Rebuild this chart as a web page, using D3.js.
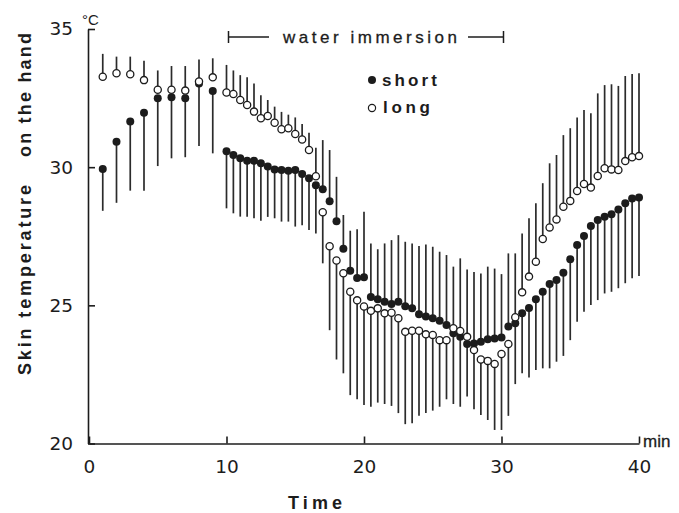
<!DOCTYPE html>
<html lang="en">
  <head>
    <title>Skin temperature on the hand</title>
    <meta charset="utf-8" />
    <script src="https://d3js.org/d3.v7.min.js"></script>
    <style>
      body { margin: 0; background: #fff; }
    </style>
  </head>
  <body>
    <svg id="chart" width="679" height="513" viewBox="0 0 679 513"></svg>
    <script>
      // time points (min): every minute before immersion, every half minute after
      const times = [
        1, 2, 3, 4, 5, 6, 7, 8, 9,
        10, 10.5, 11, 11.5, 12, 12.5, 13, 13.5, 14, 14.5, 15, 15.5, 16, 16.5, 17, 17.5, 18, 18.5, 19, 19.5,
        20, 20.5, 21, 21.5, 22, 22.5, 23, 23.5, 24, 24.5, 25, 25.5, 26, 26.5, 27, 27.5, 28, 28.5, 29, 29.5, 30,
        30.5, 31, 31.5, 32, 32.5, 33, 33.5, 34, 34.5, 35, 35.5, 36, 36.5, 37, 37.5, 38, 38.5, 39, 39.5, 40
      ];

      // "short" group: mean and the end of its SD bar
      const shortMean = [
        29.93, 30.92, 31.65, 31.97, 32.49, 32.53, 32.49, 33.03, 32.76,
        30.58, 30.44, 30.32, 30.23, 30.23, 30.14, 30.02, 29.92, 29.90, 29.87, 29.90, 29.75, 29.60, 29.35, 29.20, 28.77, 28.04, 27.05, 26.25, 25.99,
        26.02, 25.30, 25.22, 25.13, 25.05, 25.13, 24.97, 24.89, 24.68, 24.60, 24.53, 24.44, 24.29, 23.99, 23.86, 23.60, 23.62, 23.68, 23.77, 23.80, 23.84,
        24.23, 24.35, 24.71, 24.90, 25.22, 25.49, 25.77, 25.92, 26.18, 26.67, 27.18, 27.51, 27.87, 28.09, 28.21, 28.30, 28.47, 28.69, 28.87, 28.90
      ];
      const shortEnd = [
        28.42, 28.71, 29.15, 29.15, 30.04, 30.32, 30.36, 30.77, 30.50,
        28.51, 28.33, 28.21, 28.21, 28.15, 28.06, 28.20, 28.15, 28.03, 28.03, 27.85, 27.90, 27.73, 27.60, 30.98, 30.62, 29.65, 28.27, 27.70, 27.75,
        28.39, 27.24, 27.03, 27.24, 27.36, 27.54, 27.30, 27.24, 27.15, 27.20, 27.12, 26.94, 26.82, 26.40, 26.70, 26.30, 26.21, 26.15, 26.40, 26.33, 26.13,
        26.88, 22.15, 22.54, 22.39, 22.66, 22.72, 22.72, 22.96, 23.17, 23.74, 24.41, 24.77, 25.01, 25.19, 25.43, 25.49, 25.62, 25.80, 25.98, 26.06
      ];

      // "long" group
      const longMean = [
        33.27, 33.40, 33.36, 33.15, 32.80, 32.80, 32.77, 33.10, 33.25,
        32.70, 32.65, 32.43, 32.25, 32.01, 31.77, 31.85, 31.61, 31.37, 31.41, 31.20, 31.00, 30.62, 29.67, 28.37, 27.14, 26.62, 26.16, 25.49, 25.18,
        24.96, 24.80, 24.89, 24.71, 24.73, 24.53, 24.04, 24.08, 24.08, 23.95, 23.93, 23.74, 23.74, 24.17, 24.07, 23.86, 23.38, 23.04, 22.99, 22.88, 23.24,
        23.60, 24.57, 25.47, 26.04, 26.58, 27.40, 27.82, 28.11, 28.57, 28.78, 29.14, 29.39, 29.26, 29.68, 29.96, 29.92, 29.90, 30.22, 30.36, 30.40
      ];
      const longEnd = [
        34.10, 34.00, 34.00, 33.85, 33.50, 33.66, 33.66, 33.90, 33.94,
        33.70, 33.50, 33.33, 33.25, 33.03, 32.60, 32.43, 32.19, 32.00, 31.90, 31.80, 31.56, 31.25, 30.70, 26.52, 24.10, 23.04, 22.54, 21.75, 21.60,
        21.39, 21.33, 21.48, 21.43, 21.36, 21.10, 20.70, 20.73, 21.00, 21.10, 21.19, 21.33, 21.60, 21.43, 21.33, 21.70, 21.24, 21.03, 20.85, 20.49, 20.49,
        21.00, 26.88, 27.60, 28.15, 28.69, 29.42, 30.14, 30.44, 31.16, 31.41, 31.80, 32.07, 31.95, 32.67, 32.97, 33.00, 32.94, 33.30, 33.37, 33.40
      ];

      const xTicks = [0, 10, 20, 30, 40];
      const yTicks = [20, 25, 30, 35];
      const immersion = [10, 30];
      const seriesNames = ["short", "long"];

      const ink = "#1c1c1c";
      const font = "'Liberation Sans', Arial, Helvetica, sans-serif";
      const tickFont = "'DejaVu Sans', Verdana, sans-serif";

      const svg = d3.select("#chart").attr("font-family", font);

      const xScale = d3.scaleLinear().domain([0, 40]).range([89, 639]);
      const yScale = d3.scaleLinear().domain([20, 35]).range([443.5, 29]);

      const rows = times.map((t, i) => ({
        t: t,
        short: shortMean[i], shortEnd: shortEnd[i],
        long: longMean[i], longEnd: longEnd[i]
      }));

      // axes
      const xAxis = svg.append("g")
        .attr("transform", `translate(0, ${yScale(20)})`)
        .call(d3.axisBottom(xScale).tickValues(xTicks).tickSizeInner(-7).tickSizeOuter(0).tickPadding(16));

      const yAxis = svg.append("g")
        .attr("transform", `translate(${xScale(0) - 1}, 0)`)
        .call(d3.axisLeft(yScale).tickValues(yTicks).tickSizeInner(-7).tickSizeOuter(0).tickPadding(15));

      [xAxis, yAxis].forEach((ax) => {
        ax.select(".domain").attr("stroke", ink).attr("stroke-width", 1.6);
        ax.selectAll(".tick line").attr("stroke", ink).attr("stroke-width", 1.6);
        ax.selectAll("text")
          .attr("fill", ink)
          .style("font-family", tickFont)
          .style("font-size", "18.5px");
      });

      // error bars
      const bars = svg.append("g").attr("stroke", "#2b2b2b").attr("stroke-width", 1.7);
      seriesNames.forEach((name) => {
        bars.selectAll(".bar-" + name)
          .data(rows)
          .enter()
          .append("line")
          .attr("class", "bar-" + name)
          .attr("x1", (d) => xScale(d.t))
          .attr("x2", (d) => xScale(d.t))
          .attr("y1", (d) => yScale(d[name]))
          .attr("y2", (d) => yScale(d[name + "End"]));
      });

      // points
      svg.append("g")
        .selectAll("circle")
        .data(rows)
        .enter()
        .append("circle")
        .attr("cx", (d) => xScale(d.t))
        .attr("cy", (d) => yScale(d.short))
        .attr("r", 4)
        .attr("fill", ink);

      svg.append("g")
        .selectAll("circle")
        .data(rows)
        .enter()
        .append("circle")
        .attr("cx", (d) => xScale(d.t))
        .attr("cy", (d) => yScale(d.long))
        .attr("r", 3.6)
        .attr("fill", "#fff")
        .attr("stroke", ink)
        .attr("stroke-width", 1.3);

      // water immersion bracket
      const bracketY = 37;
      const imm = svg.append("g").attr("stroke", ink).attr("stroke-width", 1.5);
      imm.append("line").attr("x1", xScale(immersion[0]) + 2).attr("x2", 269).attr("y1", bracketY).attr("y2", bracketY);
      imm.append("line").attr("x1", xScale(immersion[0]) + 2).attr("x2", xScale(immersion[0]) + 2).attr("y1", bracketY - 6).attr("y2", bracketY + 6);
      imm.append("line").attr("x1", 468).attr("x2", xScale(immersion[1]) + 2).attr("y1", bracketY).attr("y2", bracketY);
      imm.append("line").attr("x1", xScale(immersion[1]) + 2).attr("x2", xScale(immersion[1]) + 2).attr("y1", bracketY - 6).attr("y2", bracketY + 6);

      svg.append("text")
        .attr("x", 283)
        .attr("y", 43)
        .attr("textLength", 174)
        .attr("lengthAdjust", "spacing")
        .attr("font-size", "17px")
        .attr("fill", ink)
        .attr("stroke", ink)
        .attr("stroke-width", 0.3)
        .text("water immersion");

      // legend
      const legend = svg.append("g").attr("transform", "translate(372, 80)");
      legend.append("circle").attr("r", 4).attr("fill", ink);
      legend.append("text")
        .attr("x", 10).attr("y", 6)
        .attr("textLength", 55).attr("lengthAdjust", "spacing")
        .attr("font-size", "17px").attr("font-weight", "700").attr("fill", ink)
        .text("short");
      legend.append("circle").attr("cy", 28).attr("r", 3.6)
        .attr("fill", "#fff").attr("stroke", ink).attr("stroke-width", 1.2);
      legend.append("text")
        .attr("x", 11).attr("y", 33)
        .attr("textLength", 47).attr("lengthAdjust", "spacing")
        .attr("font-size", "17px").attr("font-weight", "700").attr("fill", ink)
        .text("long");

      // unit labels
      svg.append("text")
        .attr("x", 82).attr("y", 25)
        .attr("font-size", "15px").attr("fill", ink)
        .text("°C");

      svg.append("text")
        .attr("x", 643).attr("y", 447)
        .attr("font-size", "17px").attr("fill", ink)
        .attr("stroke", ink).attr("stroke-width", 0.3)
        .text("min");

      // axis titles
      svg.append("text")
        .attr("x", 288).attr("y", 509)
        .attr("textLength", 54).attr("lengthAdjust", "spacing")
        .attr("font-size", "18px").attr("font-weight", "700").attr("fill", ink)
        .text("Time");

      const yTitle = svg.append("g").attr("transform", "translate(31, 0) rotate(-90)");
      yTitle.append("text")
        .attr("x", -375).attr("y", 0)
        .attr("textLength", 190).attr("lengthAdjust", "spacing")
        .attr("font-size", "18px").attr("font-weight", "700").attr("fill", ink)
        .text("Skin temperature");
      yTitle.append("text")
        .attr("x", -157).attr("y", 0)
        .attr("textLength", 124).attr("lengthAdjust", "spacing")
        .attr("font-size", "18px").attr("font-weight", "700").attr("fill", ink)
        .text("on the hand");
    </script>
  </body>
</html>
